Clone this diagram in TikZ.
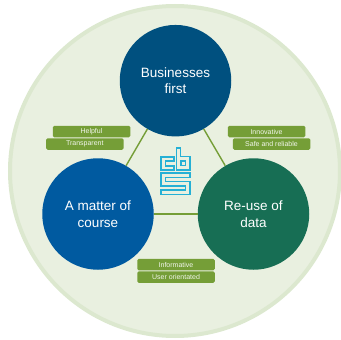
\documentclass[tikz,border=0pt]{standalone}
\usepackage{fontspec}
\setmainfont{Liberation Sans}
\definecolor{ringfill}{HTML}{E9F0E0}
\definecolor{ringline}{HTML}{DCE8CF}
\definecolor{pill}{HTML}{759E37}
\definecolor{topc}{HTML}{00507F}
\definecolor{leftc}{HTML}{005AA0}
\definecolor{rightc}{HTML}{176E54}
\definecolor{logoc}{HTML}{25B0D5}
\tikzset{x=1pt,y=-1pt,
 hub/.style={circle,minimum size=111.5pt,inner sep=0pt,text=white,align=center,font=\fontsize{13.5}{16.6}\selectfont},
 pillbox/.style={draw=none,fill=pill,rounded corners=1.5pt,minimum width=77.5pt,minimum height=11.5pt,inner sep=0pt,text=white!90!pill,font=\fontsize{7}{8}\selectfont},
 link/.style={draw=pill,line width=1.4pt},
 logo/.style={draw=logoc,line width=1.2pt}}
\begin{document}
\begin{tikzpicture}
\useasboundingbox (0,0) rectangle (341,340);
\node[circle,draw=ringline,line width=4pt,fill=ringfill,minimum size=330pt,inner sep=0pt] (ring) at (175,171) {};
\node[hub,fill=topc] (top) at (175.5,80.7) {Businesses\\first};
\node[hub,fill=leftc] (left) at (98,214) {A matter of\\course};
\node[hub,fill=rightc] (right) at (253.5,214) {Re-use of\\data};
\draw[link] (top) -- (left);
\draw[link] (top) -- (right);
\draw[link] (left) -- (right);
\node[pillbox] (a) at (91.5,131.5) {Helpful};
\node[pillbox] (b) at (84.8,144) {Transparent};
\node[pillbox] (c) at (266.5,131.5) {Innovative};
\node[pillbox] (d) at (271.5,144) {Safe and reliable};
\node[pillbox] (e) at (176,264.5) {Informative};
\node[pillbox] (f) at (176,277) {User orientated};
\draw[logo] (174,157) -- (161,157) -- (161,170) -- (174,170) -- (174,166) -- (165.5,166) -- (165.5,161) -- (174,161) -- cycle;
\draw[logo] (176.5,148) -- (180.5,148) -- (180.5,156.5) -- (190,156.5) -- (190,170) -- (176.5,170) -- cycle;
\draw[logo] (181,161) rectangle (185.5,165.5);
\draw[logo] (190,173) -- (161,173) -- (161,186) -- (185.5,186) -- (185.5,190) -- (161,190) -- (161,194.5) -- (190,194.5) -- (190,181.5) -- (165.5,181.5) -- (165.5,177.5) -- (190,177.5) -- cycle;
\end{tikzpicture}
\end{document}
